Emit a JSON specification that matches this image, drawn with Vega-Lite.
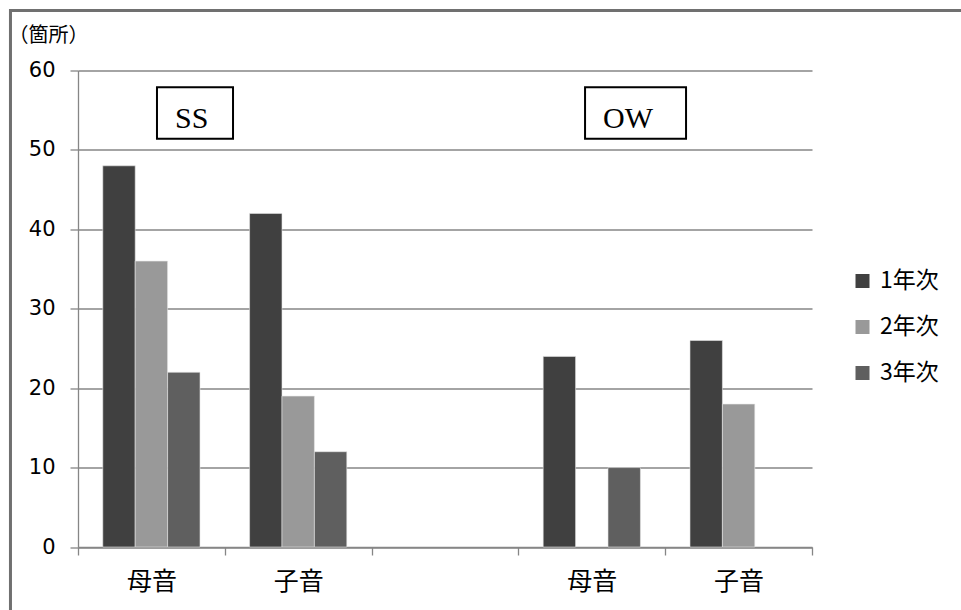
{
  "$schema": "https://vega.github.io/schema/vega-lite/v6.json",
  "autosize": {"type": "none"},
  "width": 734,
  "height": 476.5,
  "padding": {"left": 78, "top": 70.5, "right": 149, "bottom": 63},
  "background": "white",
  "config": {
    "font": "Noto Sans CJK JP",
    "view": {"stroke": null}
  },
  "datasets": {
    "counts": [
      {"区分": "SS母音", "学年": "1年次", "箇所": 48},
      {"区分": "SS母音", "学年": "2年次", "箇所": 36},
      {"区分": "SS母音", "学年": "3年次", "箇所": 22},
      {"区分": "SS子音", "学年": "1年次", "箇所": 42},
      {"区分": "SS子音", "学年": "2年次", "箇所": 19},
      {"区分": "SS子音", "学年": "3年次", "箇所": 12},
      {"区分": "OW母音", "学年": "1年次", "箇所": 24},
      {"区分": "OW母音", "学年": "3年次", "箇所": 10},
      {"区分": "OW子音", "学年": "1年次", "箇所": 26},
      {"区分": "OW子音", "学年": "2年次", "箇所": 18}
    ],
    "groups": [
      {"label": "SS", "x1": 0.538, "x2": 1.056, "y1": 51.4, "y2": 57.9},
      {"label": "OW", "x1": 3.454, "x2": 4.142, "y1": 51.4, "y2": 57.9}
    ]
  },
  "layer": [
    {
      "data": {"name": "counts"},
      "mark": {"type": "bar", "stroke": "#e6e6e6", "strokeWidth": 0.6},
      "encoding": {
        "x": {
          "field": "区分",
          "type": "nominal",
          "sort": null,
          "scale": {"domain": ["SS母音", "SS子音", "空白", "OW母音", "OW子音"], "paddingInner": 0, "paddingOuter": 0},
          "axis": {
            "title": null,
            "labelExpr": "substring(datum.label, 2)",
            "labelAngle": 0,
            "labelFont": "Noto Sans CJK JP",
            "labelFontSize": 25,
            "labelColor": "#000000",
            "labelPadding": 14,
            "tickBand": "extent",
            "tickSize": 8,
            "tickColor": "#868686",
            "tickWidth": 1.3,
            "domainColor": "#868686",
            "domainWidth": 1.3,
            "grid": false
          }
        },
        "xOffset": {
          "field": "学年",
          "type": "nominal",
          "scale": {"domain": ["1年次", "2年次", "3年次"], "paddingInner": 0, "paddingOuter": 0.765}
        },
        "y": {
          "field": "箇所",
          "type": "quantitative",
          "scale": {"domain": [0, 60], "nice": false, "zero": true},
          "axis": {
            "values": [0, 10, 20, 30, 40, 50, 60],
            "title": "（箇所）",
            "titleAngle": 0,
            "titleAlign": "left",
            "titleBaseline": "middle",
            "titleX": -70,
            "titleY": -35,
            "titleFont": "Noto Sans CJK JP",
            "titleFontSize": 20,
            "titleFontWeight": "normal",
            "titleColor": "#000000",
            "labelFont": "DejaVu Sans",
            "labelFontSize": 21,
            "labelColor": "#000000",
            "labelPadding": 15,
            "tickSize": 8,
            "tickColor": "#868686",
            "tickWidth": 1.3,
            "domainColor": "#868686",
            "domainWidth": 1.3,
            "grid": true,
            "gridColor": "#868686",
            "gridWidth": 1.3
          }
        },
        "color": {
          "field": "学年",
          "type": "nominal",
          "scale": {"domain": ["1年次", "2年次", "3年次"], "range": ["#404040", "#999999", "#5f5f5f"]},
          "legend": {
            "title": null,
            "orient": "none",
            "legendX": 773,
            "legendY": 199,
            "symbolType": "square",
            "symbolSize": 196,
            "symbolStrokeWidth": 0,
            "labelFont": "Noto Sans CJK JP",
            "labelFontSize": 23,
            "labelColor": "#000000",
            "labelOffset": 6,
            "rowPadding": 22
          }
        }
      }
    },
    {
      "layer": [
        {
          "data": {"values": [{}]},
          "mark": {"type": "rect", "fillOpacity": 0, "stroke": "#707070", "strokeWidth": 3, "clip": false},
          "encoding": {
            "x": {"datum": -0.46, "type": "quantitative", "scale": {"domain": [0, 5], "nice": false, "zero": false}, "axis": null},
            "x2": {"datum": 7},
            "y": {"datum": -10, "type": "quantitative"},
            "y2": {"datum": 67.55}
          }
        },
        {
          "data": {"name": "groups"},
          "mark": {"type": "rect", "fill": "white", "stroke": "#000000", "strokeWidth": 2},
          "encoding": {
            "x": {"field": "x1", "type": "quantitative", "axis": null},
            "x2": {"field": "x2"},
            "y": {"field": "y1", "type": "quantitative"},
            "y2": {"field": "y2"}
          }
        },
        {
          "data": {"name": "groups"},
          "mark": {"type": "text", "font": "Liberation Serif, DejaVu Serif, serif", "fontSize": 30, "align": "left", "baseline": "alphabetic", "dx": 18, "dy": -11, "color": "#000000"},
          "encoding": {
            "x": {"field": "x1", "type": "quantitative", "axis": null},
            "y": {"field": "y1", "type": "quantitative"},
            "text": {"field": "label"}
          }
        }
      ]
    }
  ],
  "resolve": {"scale": {"x": "independent"}, "axis": {"x": "independent"}}
}
